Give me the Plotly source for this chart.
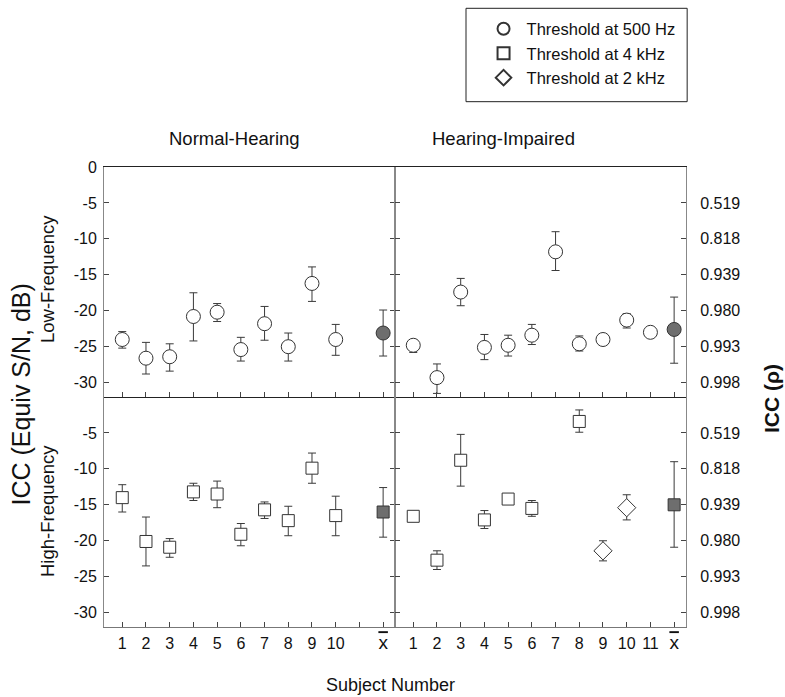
import plotly.graph_objects as go

# ---------------- data ----------------
nh_subjects = [1, 2, 3, 4, 5, 6, 7, 8, 9, 10]
hi_subjects = [1, 2, 3, 4, 5, 6, 7, 8, 9, 10, 11]
mean_pos = [12]

# Normal-Hearing, Low-Frequency (threshold at 500 Hz)
nh_low_y = [-24.0, -26.6, -26.4, -20.8, -20.2, -25.4, -21.8, -25.0, -16.2, -24.0]
nh_low_up = [-22.9, -24.4, -24.6, -17.5, -19.0, -23.7, -19.4, -23.1, -13.9, -21.9]
nh_low_lo = [-25.2, -28.8, -28.4, -24.2, -21.5, -27.0, -24.1, -27.0, -18.7, -26.2]
nh_low_mean = [-23.1]
nh_low_mean_up = [-19.9]
nh_low_mean_lo = [-26.3]

# Hearing-Impaired, Low-Frequency (threshold at 500 Hz)
hi_low_y = [-24.8, -29.3, -17.4, -25.1, -24.8, -23.4, -11.8, -24.6, -24.0, -21.3, -23.0]
hi_low_up = [-24.2, -27.4, -15.5, -23.3, -23.4, -21.9, -9.0, -23.5, -23.7, -20.4, -22.7]
hi_low_lo = [-25.8, -31.5, -19.3, -26.8, -26.3, -24.7, -14.4, -25.6, -24.3, -22.4, -23.3]
hi_low_mean = [-22.6]
hi_low_mean_up = [-18.1]
hi_low_mean_lo = [-27.3]

# Normal-Hearing, High-Frequency (threshold at 4 kHz)
nh_high_y = [-14.0, -20.1, -20.9, -13.2, -13.5, -19.1, -15.7, -17.2, -9.9, -16.5]
nh_high_up = [-12.2, -16.7, -19.7, -12.0, -11.7, -17.6, -14.6, -15.2, -7.8, -13.8]
nh_high_lo = [-16.0, -23.5, -22.3, -14.4, -15.4, -20.7, -16.9, -19.3, -12.0, -19.3]
nh_high_mean = [-16.0]
nh_high_mean_up = [-12.6]
nh_high_mean_lo = [-19.5]

# Hearing-Impaired, High-Frequency (threshold at 4 kHz)
hi_high_sq_x = [1, 2, 3, 4, 5, 6, 8]
hi_high_sq_y = [-16.6, -22.7, -8.8, -17.1, -14.2, -15.5, -3.4]
hi_high_sq_up = [-16.3, -21.4, -5.2, -15.8, -13.6, -14.4, -1.8]
hi_high_sq_lo = [-16.9, -24.0, -12.4, -18.3, -14.8, -16.6, -4.9]
# Hearing-Impaired, High-Frequency (threshold at 2 kHz)
hi_high_di_x = [9, 10]
hi_high_di_y = [-21.4, -15.4]
hi_high_di_up = [-20.0, -13.6]
hi_high_di_lo = [-22.8, -17.1]
hi_high_mean = [-15.0]
hi_high_mean_up = [-9.0]
hi_high_mean_lo = [-20.9]

db_ticks = [-5, -10, -15, -20, -25, -30]
icc_labels = ["0.519", "0.818", "0.939", "0.980", "0.993", "0.998"]
XBAR = "<span style='text-decoration:overline;font-size:19px'>x</span>"
nh_xlabels = ["1", "2", "3", "4", "5", "6", "7", "8", "9", "10", "", XBAR]
hi_xlabels = ["1", "2", "3", "4", "5", "6", "7", "8", "9", "10", "11", XBAR]

legend_names = ["Threshold at 500 Hz", "Threshold at 4 kHz", "Threshold at 2 kHz"]

# ---------------- styling ----------------
FONT = "Arial, Liberation Sans, sans-serif"
EDGE = "#333333"
MEAN_FILL = "#6e6e6e"


def err(y, up, lo):
    return dict(type="data", symmetric=False,
                array=[u - v for u, v in zip(up, y)],
                arrayminus=[v - l for v, l in zip(y, lo)],
                color="#3a3a3a", thickness=1, width=4)


def trace(x, y, up, lo, symbol, size, fill, xa, ya, name=None, show=False):
    return go.Scatter(
        x=x, y=y, mode="markers", xaxis=xa, yaxis=ya,
        name=name or "", showlegend=show, legendgroup=name or None,
        marker=dict(symbol=symbol, size=size, color=fill,
                    line=dict(color=EDGE, width=1)),
        error_y=err(y, up, lo), hoverinfo="x+y")


fig = go.Figure()
# top-left
fig.add_trace(trace(nh_subjects, nh_low_y, nh_low_up, nh_low_lo, "circle", 14, "white",
                    "x", "y", legend_names[0], True))
fig.add_trace(trace(mean_pos, nh_low_mean, nh_low_mean_up, nh_low_mean_lo, "circle", 14, MEAN_FILL, "x", "y"))
# top-right
fig.add_trace(trace(hi_subjects, hi_low_y, hi_low_up, hi_low_lo, "circle", 14, "white", "x2", "y2"))
fig.add_trace(trace(mean_pos, hi_low_mean, hi_low_mean_up, hi_low_mean_lo, "circle", 14, MEAN_FILL, "x2", "y2"))
# bottom-left
fig.add_trace(trace(nh_subjects, nh_high_y, nh_high_up, nh_high_lo, "square", 12, "white",
                    "x3", "y3", legend_names[1], True))
fig.add_trace(trace(mean_pos, nh_high_mean, nh_high_mean_up, nh_high_mean_lo, "square", 12, MEAN_FILL, "x3", "y3"))
# bottom-right
fig.add_trace(trace(hi_high_sq_x, hi_high_sq_y, hi_high_sq_up, hi_high_sq_lo, "square", 12, "white", "x4", "y4"))
fig.add_trace(trace(hi_high_di_x, hi_high_di_y, hi_high_di_up, hi_high_di_lo, "diamond", 14, "white",
                    "x4", "y4", legend_names[2], True))
fig.add_trace(trace(mean_pos, hi_high_mean, hi_high_mean_up, hi_high_mean_lo, "square", 12, MEAN_FILL, "x4", "y4"))

ticks_common = dict(ticks="inside", ticklen=5, tickwidth=1, tickcolor="#444",
                    showgrid=False, zeroline=False, showline=True, linewidth=1,
                    tickfont=dict(family=FONT, size=16, color="#111"))

xcommon = dict(range=[0.23, 12.5], tickvals=list(range(1, 13)), **ticks_common)
ycommon = dict(range=[-32, 0], mirror="ticks", **ticks_common)

fig.update_layout(
    width=785, height=697,
    paper_bgcolor="white", plot_bgcolor="white",
    margin=dict(l=104, r=99, t=163, b=70),
    font=dict(family=FONT, color="#111"),
    xaxis=dict(domain=[0, 0.5], anchor="y", showticklabels=False, mirror=True,
               linecolor="#222", **xcommon),
    xaxis2=dict(domain=[0.5, 1], anchor="y2", showticklabels=False, mirror=True,
                linecolor="#222", **xcommon),
    xaxis3=dict(domain=[0, 0.5], anchor="y3", ticktext=nh_xlabels, mirror=False,
                linecolor="#777", ticklabelstandoff=2, **xcommon),
    xaxis4=dict(domain=[0.5, 1], anchor="y4", ticktext=hi_xlabels, mirror=False,
                linecolor="#777", ticklabelstandoff=2, **xcommon),
    yaxis=dict(domain=[0.5, 1], anchor="x", side="left",
               tickvals=[0] + db_ticks, ticktext=["0"] + [str(v) for v in db_ticks],
               linecolor="#888", ticklabelstandoff=3, **ycommon),
    yaxis3=dict(domain=[0, 0.5], anchor="x3", side="left",
                tickvals=db_ticks, ticktext=[str(v) for v in db_ticks],
                linecolor="#888", ticklabelstandoff=3, **ycommon),
    yaxis2=dict(domain=[0.5, 1], anchor="x2", side="right",
                tickvals=db_ticks, ticktext=icc_labels, ticklabelstandoff=10,
                linecolor="#888", **ycommon),
    yaxis4=dict(domain=[0, 0.5], anchor="x4", side="right",
                tickvals=db_ticks, ticktext=icc_labels, ticklabelstandoff=10,
                linecolor="#888", **ycommon),
    legend=dict(x=0.647, y=1.338, xanchor="left", yanchor="top",
                bgcolor="rgba(0,0,0,0)", borderwidth=0,
                font=dict(family=FONT, size=16.5, color="#111"),
                tracegroupgap=0, itemsizing="constant", itemwidth=36),
    shapes=[dict(type="rect", xref="paper", yref="paper",
                 x0=0.622, x1=1.002, y0=1.142, y1=1.345,
                 line=dict(color="#222", width=1))],
)

ann_font = dict(family=FONT, color="#111")
annotations = [
    dict(text="Normal-Hearing", x=0.225, y=1.061, font=dict(size=18.5, **ann_font)),
    dict(text="Hearing-Impaired", x=0.686, y=1.061, font=dict(size=18.5, **ann_font)),
    dict(text="Low-Frequency", x=-0.098, y=0.7565, textangle=-90, font=dict(size=18.5, **ann_font)),
    dict(text="High-Frequency", x=-0.098, y=0.252, textangle=-90, font=dict(size=18.5, **ann_font)),
    dict(text="ICC (Equiv S/N, dB)", x=-0.143, y=0.505, textangle=-90, font=dict(size=25, **ann_font)),
    dict(text="<b>ICC (ρ)</b>", x=1.148, y=0.496, textangle=-90, font=dict(size=21, **ann_font)),
    dict(text="Subject Number", x=0.493, y=-0.125, font=dict(size=18, **ann_font)),
]
for a in annotations:
    a.update(xref="paper", yref="paper", showarrow=False, xanchor="center", yanchor="middle")
fig.update_layout(annotations=annotations)

fig.write_html("out.html", config={"displayModeBar": False},
               post_script="document.body.style.margin='0';document.body.style.overflow='hidden';")
